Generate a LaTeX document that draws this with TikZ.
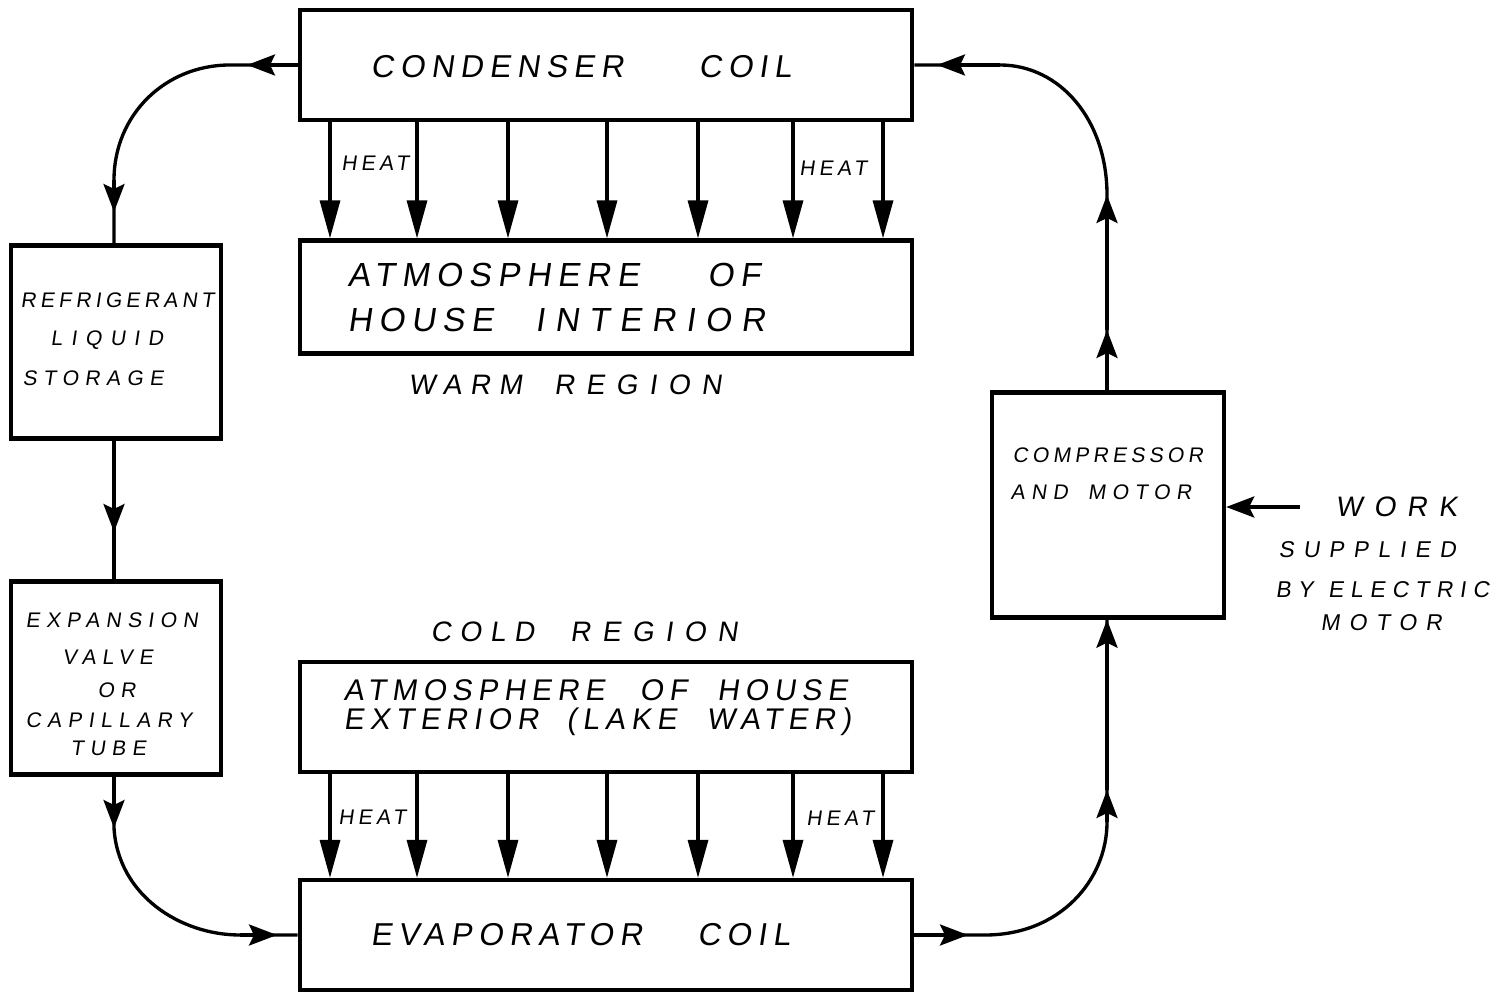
\documentclass[tikz,border=0pt]{standalone}
\usepackage{fontspec}
\setmainfont{Liberation Sans}
\newfontfamily\handA[FakeSlant=0.15,LetterSpace=20]{Liberation Sans}
\newfontfamily\handB[FakeSlant=0.15,LetterSpace=30]{Liberation Sans}
\newfontfamily\handC[FakeSlant=0.15,LetterSpace=40]{Liberation Sans}
\usetikzlibrary{arrows.meta}
\begin{document}
\begin{tikzpicture}[x=0.01cm,y=-0.01cm,
  box/.style={draw,line width=1.2pt,inner sep=0pt},
  flow/.style={line width=0.95pt},
  tipend/.style={-{Stealth[length=0.28cm,width=0.21cm,inset=0.05cm]}},
  heatarr/.style={line width=0.95pt,-{Triangle[length=0.38cm,width=0.2cm]}},
  lab/.style={inner sep=0pt,anchor=west},
  heatlab/.style={inner sep=0pt,font=\handA\fontsize{6}{7}\selectfont}]
\useasboundingbox[fill=white] (0,0) rectangle (1495,995);

% boxes
\node[box,minimum width=6.12cm,minimum height=1.10cm] (cond) at (606,65) {};
\node[box,minimum width=6.12cm,minimum height=1.13cm] (inter) at (606,297) {};
\node[box,minimum width=2.10cm,minimum height=1.93cm] (stor) at (116,342) {};
\node[box,minimum width=2.10cm,minimum height=1.93cm] (expn) at (116,678) {};
\node[box,minimum width=6.12cm,minimum height=1.10cm] (exter) at (606,717) {};
\node[box,minimum width=6.12cm,minimum height=1.10cm] (evap) at (606,935) {};
\node[box,minimum width=2.32cm,minimum height=2.25cm] (comp) at (1108,505) {};

% texts
\node[lab,font=\handA\fontsize{9}{10}\selectfont] (condT) at (370,67) {CONDENSER\hspace{0.75cm}COIL};
\node[lab,font=\handA\fontsize{9.5}{11}\selectfont] (interT1) at (347,275) {ATMOSPHERE\hspace{0.68cm}OF};
\node[lab,font=\handA\fontsize{9.5}{11}\selectfont] (interT2) at (347,320) {HOUSE\hspace{0.42cm}{\handB INTERIOR}};
\node[lab,font=\handB\fontsize{8}{9}\selectfont] (warm) at (408,385) {WARM\hspace{0.32cm}{\handC REGION}};
\node[lab,font=\handB\fontsize{8}{9}\selectfont] (cold) at (430,632) {COLD\hspace{0.36cm}{\handC REGION}};
\node[lab,font=\handA\fontsize{8.5}{10}\selectfont] (exterT1) at (343,690) {ATMOSPHERE\hspace{0.35cm}OF\hspace{0.3cm}HOUSE};
\node[lab,font=\handA\fontsize{8.5}{10}\selectfont] (exterT2) at (343,722) {EXTERIOR\hspace{0.28cm}(LAKE\hspace{0.3cm}WATER)};
\node[lab,font=\handA\fontsize{9}{10}\selectfont] (evapT) at (370,935) {EVAPORATOR\hspace{0.55cm}COIL};

\node[lab,font=\handA\fontsize{6}{7}\selectfont] (storT1) at (20,300) {REFRIGERANT};
\node[lab,font=\handC\fontsize{6}{7}\selectfont] (storT2) at (50,340) {LIQUID};
\node[lab,font=\handB\fontsize{6}{7}\selectfont] (storT3) at (22,378) {STORAGE};

\node[lab,font=\handB\fontsize{6}{7}\selectfont] (expT1) at (25,620) {EXPANSION};
\node[lab,font=\handB\fontsize{6}{7}\selectfont] (expT2) at (62,657) {VALVE};
\node[lab,font=\handB\fontsize{6}{7}\selectfont] (expT3) at (97,690) {OR};
\node[lab,font=\handB\fontsize{6}{7}\selectfont] (expT4) at (25,720) {CAPILLARY};
\node[lab,font=\handB\fontsize{6}{7}\selectfont] (expT5) at (70,748) {TUBE};

\node[lab,font=\handA\fontsize{6}{7}\selectfont] (compT1) at (1012,455) {COMPRESSOR};
\node[lab,font=\handB\fontsize{6}{7}\selectfont] (compT2) at (1010,492) {AND\hspace{0.2cm}MOTOR};

\node[lab,font=\handC\fontsize{8}{9}\selectfont] (work1) at (1335,507) {WORK};
\node[lab,font=\handC\fontsize{6.5}{7}\selectfont] (work2) at (1278,550) {SUPPLIED};
\node[lab,font=\handB\fontsize{6.5}{7}\selectfont] (work3) at (1275,590) {BY\hspace{0.15cm}ELECTRIC};
\node[lab,font=\handC\fontsize{6.5}{7}\selectfont] (work4) at (1320,623) {MOTOR};

\node[heatlab] (h1) at (375,163) {HEAT};
\node[heatlab] (h2) at (833,168) {HEAT};
\node[heatlab] (h3) at (372,817) {HEAT};
\node[heatlab] (h4) at (840,818) {HEAT};

% heat arrows
\foreach \x in {330,417,508,607,698,793,883} {
  \draw[heatarr] (cond.south -| \x,0) -- (inter.north -| \x,0);
  \draw[heatarr] (exter.south -| \x,0) -- (evap.north -| \x,0);
}

% condenser -> storage
\coordinate (a1) at (247,65);
\coordinate (a2) at (230,65);
\coordinate (a3) at (114,180);
\coordinate (a4) at (114,212);
\draw[flow] (cond.west) -- (a2) .. controls (165,65) and (114,115) .. (a3) -- (stor.north -| a3);
\draw[flow,tipend] (cond.west) -- (a1);
\draw[flow,tipend] (a3) -- (a4);

% storage -> expansion
\coordinate (b0) at (114,440);
\coordinate (b1) at (114,532);
\draw[flow] (stor.south -| b0) -- (expn.north -| b0);
\draw[flow,tipend] (stor.south -| b0) -- (b1);

% expansion -> evaporator
\coordinate (c1) at (114,828);
\coordinate (c2) at (240,935);
\coordinate (c3) at (277,935);
\draw[flow] (expn.south -| c1) -- (c1) .. controls (118,895) and (180,935) .. (c2) -- (evap.west);
\draw[flow,tipend] (expn.south -| c1) -- (c1);
\draw[flow,tipend] (c2) -- (c3);

% evaporator -> compressor
\coordinate (d1) at (968,935);
\coordinate (d2) at (985,935);
\coordinate (d3) at (1107,822);
\coordinate (d4) at (1107,790);
\draw[flow] (evap.east) -- (d2) .. controls (1060,935) and (1107,880) .. (d3) -- (comp.south -| d3);
\draw[flow,tipend] (evap.east) -- (d1);
\draw[flow,tipend] (d3) -- (d4);
\draw[flow,tipend] (d4) -- (comp.south -| d4);

% compressor -> condenser
\coordinate (e1) at (1107,330);
\coordinate (e2) at (1107,195);
\coordinate (e3) at (1000,65);
\coordinate (e4) at (937,65);
\draw[flow] (comp.north -| e1) -- (e2) .. controls (1107,120) and (1060,65) .. (e3) -- (cond.east);
\draw[flow,tipend] (comp.north -| e1) -- (e1);
\draw[flow,tipend] (e1) -- (e2);
\draw[flow,tipend] (e3) -- (e4);

% work input
\coordinate (w0) at (1300,507);
\draw[flow,tipend] (w0) -- (comp.east |- w0);
\end{tikzpicture}
\end{document}
